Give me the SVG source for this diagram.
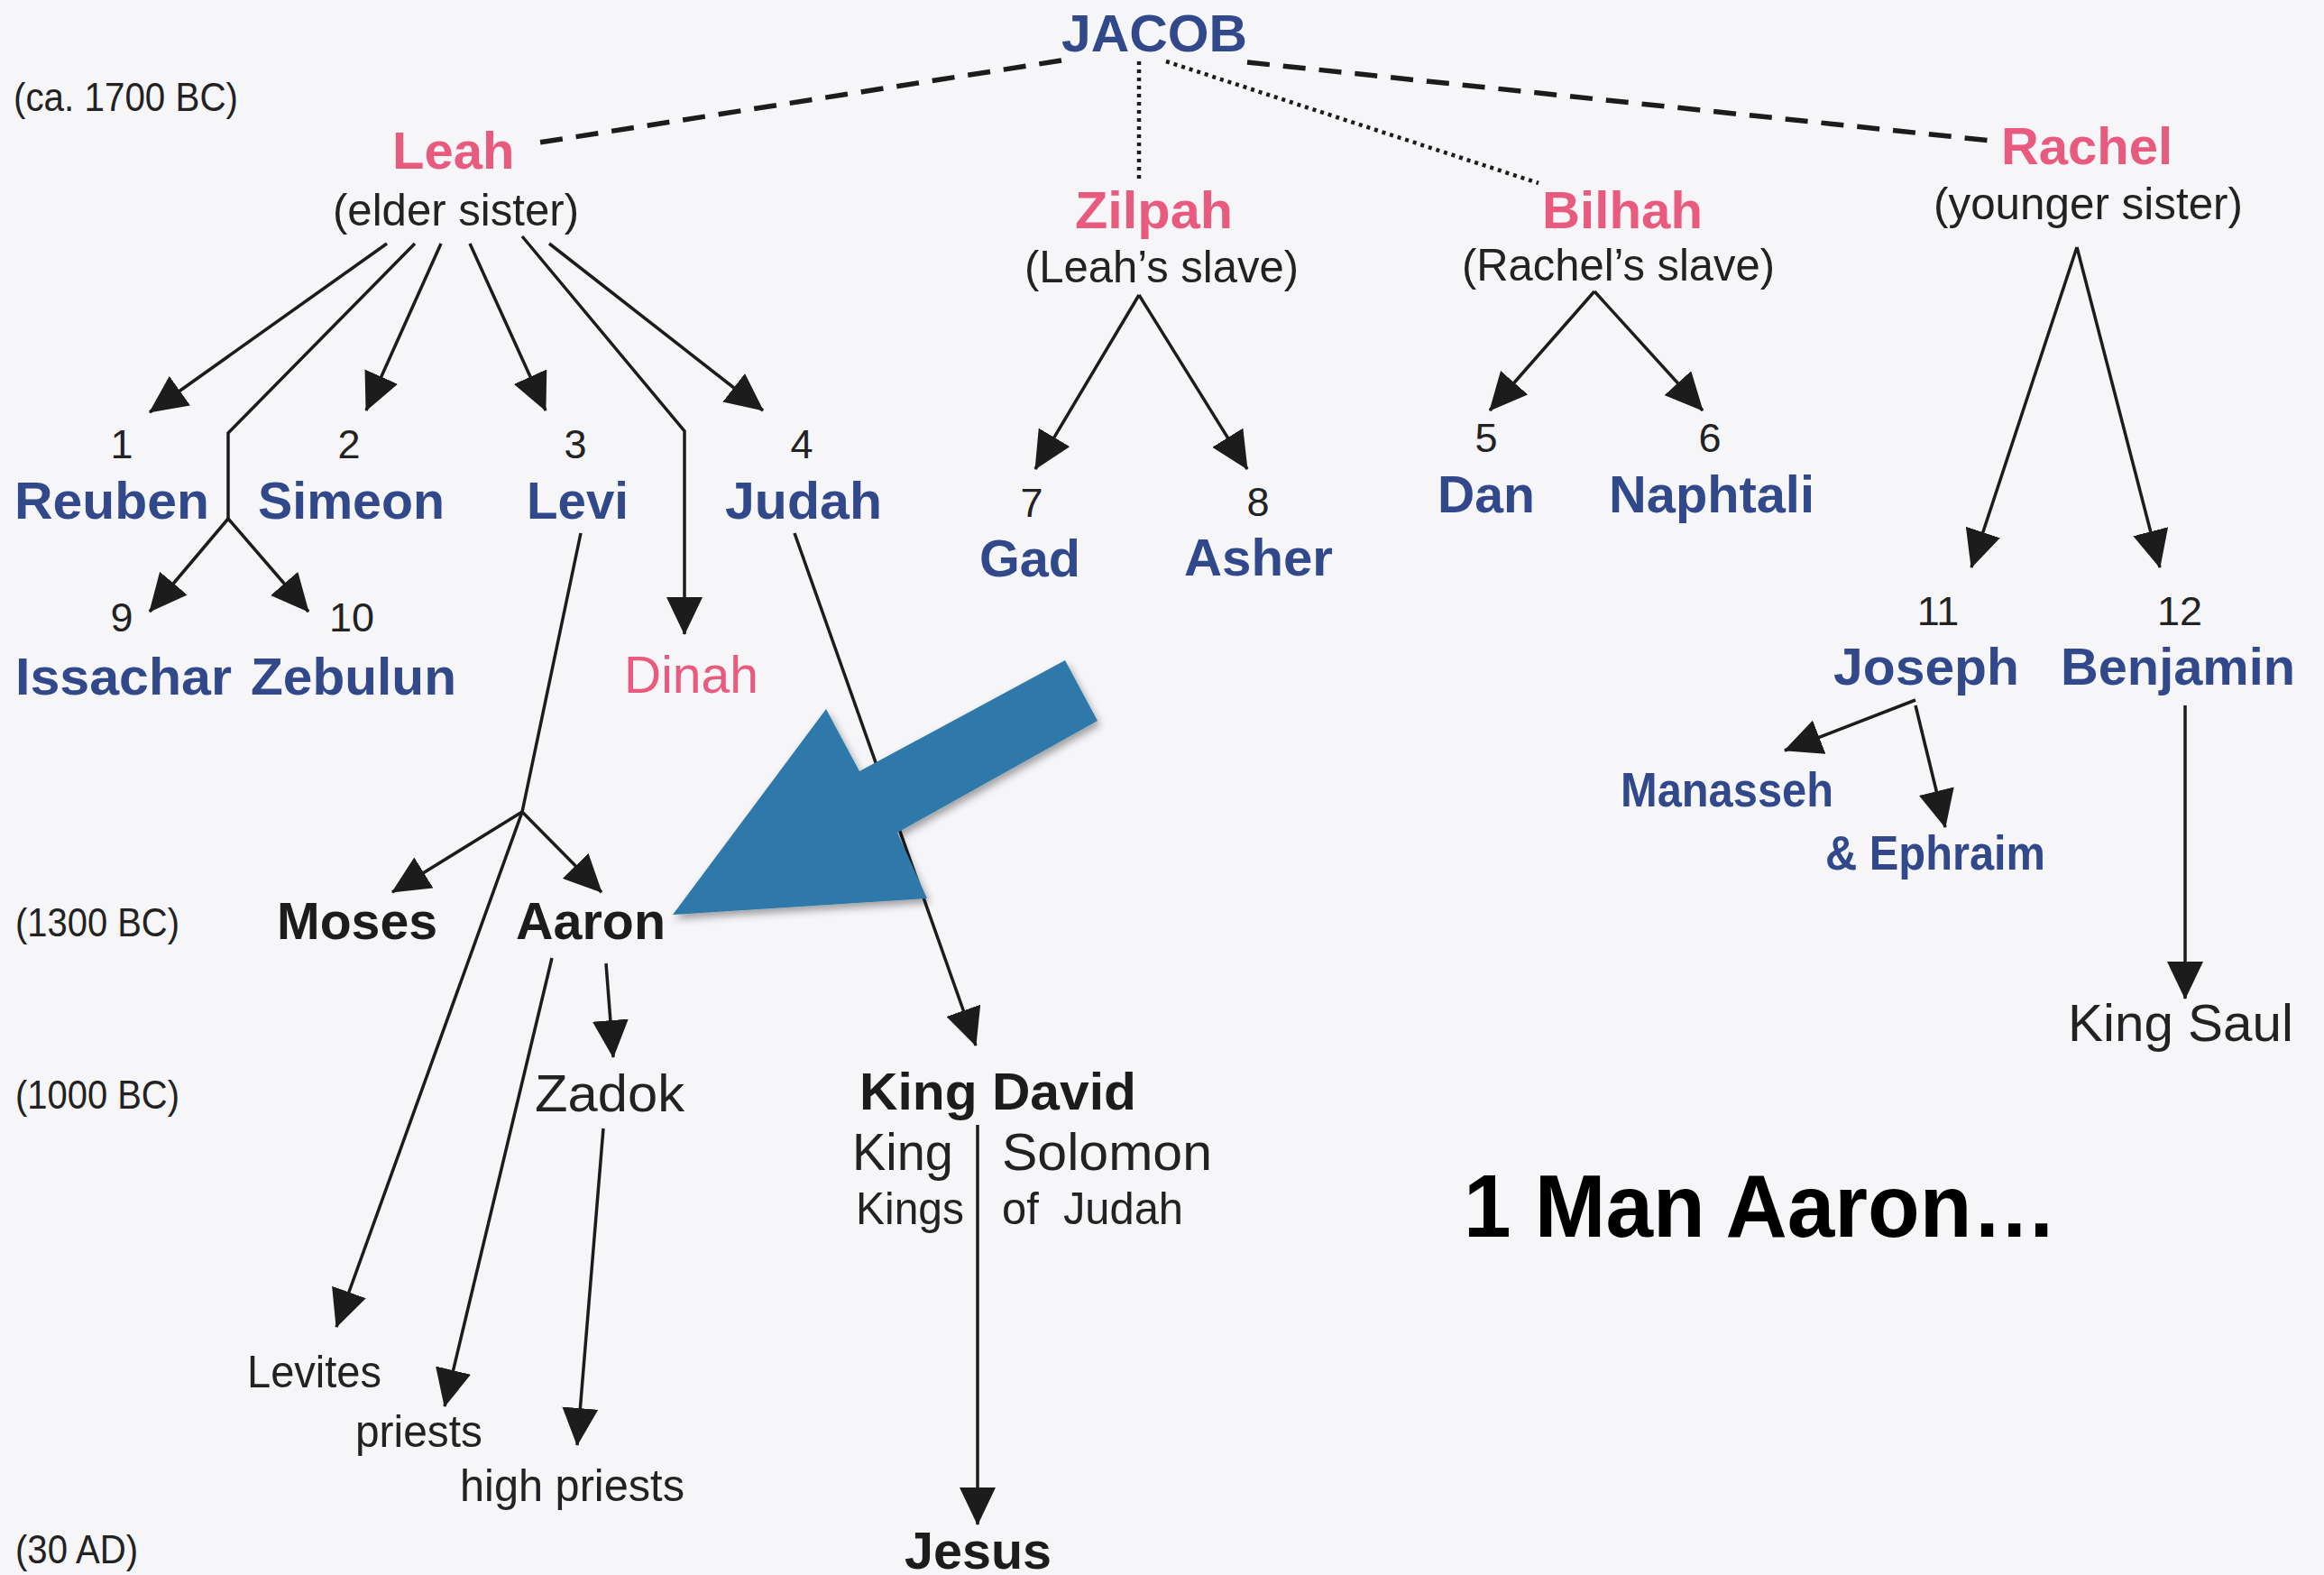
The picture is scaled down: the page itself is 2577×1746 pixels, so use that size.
<svg xmlns="http://www.w3.org/2000/svg" width="2577" height="1746" viewBox="0 0 2577 1746">
<style>
text{font-family:"Liberation Sans",Arial,Helvetica,sans-serif;}
.nb{font-weight:bold;font-size:58px;fill:#31498a;}
.pk{font-weight:bold;font-size:58px;fill:#e85a7e;}
.sub{font-size:50px;fill:#222;}
.num{font-size:45px;fill:#222;text-anchor:middle;}
.era{font-size:45px;fill:#222;}
.bk{font-weight:bold;font-size:58px;fill:#1c1c1c;}
.rg{font-size:58px;fill:#222;}
.sm{font-size:50px;fill:#222;}
.ln{stroke:#1c1c1c;stroke-width:3.5;fill:none;}
.arr{marker-end:url(#ah);}
.dash{stroke:#1c1c1c;stroke-width:5.5;fill:none;stroke-dasharray:25 15;}
.dot{stroke:#1c1c1c;stroke-width:4.5;fill:none;stroke-dasharray:4 5;}
</style>
<defs>
<marker id="ah" markerUnits="userSpaceOnUse" markerWidth="42" markerHeight="40" viewBox="0 0 42 40" refX="41" refY="20" orient="auto">
<path d="M0,0 L42,20 L0,40 z" fill="#1c1c1c"/>
</marker>
<filter id="sh" x="-20%" y="-20%" width="140%" height="140%">
<feDropShadow dx="3" dy="5" stdDeviation="4" flood-color="#000" flood-opacity="0.35"/>
</filter>
</defs>
<rect x="0" y="0" width="2577" height="1746" fill="#f6f6f9"/>

<g id="connectors">
<line class="dash" x1="1177" y1="67" x2="598" y2="158"/>
<line class="dash" x1="1383" y1="69" x2="2208" y2="156"/>
<line class="dot" x1="1263" y1="68" x2="1263" y2="203"/>
<line class="dot" x1="1293" y1="68" x2="1706" y2="203"/>
<line class="ln arr" x1="429" y1="270" x2="166" y2="457"/>
<polyline class="ln" points="460,270 253,480 253,575"/>
<line class="ln arr" x1="253" y1="575" x2="166" y2="678"/>
<line class="ln arr" x1="253" y1="575" x2="342" y2="678"/>
<line class="ln arr" x1="489" y1="270" x2="406" y2="455"/>
<line class="ln arr" x1="521" y1="270" x2="605" y2="455"/>
<polyline class="ln arr" points="579,262 759,478 759,703"/>
<line class="ln arr" x1="609" y1="270" x2="846" y2="455"/>
<line class="ln arr" x1="1263" y1="327" x2="1148" y2="520"/>
<line class="ln arr" x1="1263" y1="327" x2="1383" y2="520"/>
<line class="ln arr" x1="1768" y1="323" x2="1652" y2="455"/>
<line class="ln arr" x1="1768" y1="323" x2="1888" y2="455"/>
<line class="ln arr" x1="2303" y1="274" x2="2186" y2="629"/>
<line class="ln arr" x1="2303" y1="274" x2="2395" y2="629"/>
<line class="ln arr" x1="2124" y1="776" x2="1979" y2="832"/>
<line class="ln arr" x1="2124" y1="782" x2="2157" y2="917"/>
<line class="ln arr" x1="2423" y1="782" x2="2423" y2="1107"/>
<polyline class="ln arr" points="644,591 579,900 373,1471"/>
<line class="ln arr" x1="579" y1="900" x2="435" y2="989"/>
<line class="ln arr" x1="579" y1="900" x2="667" y2="989"/>
<line class="ln arr" x1="612" y1="1062" x2="493" y2="1559"/>
<line class="ln arr" x1="672" y1="1068" x2="680" y2="1172"/>
<line class="ln arr" x1="669" y1="1251" x2="640" y2="1602"/>
<line class="ln arr" x1="881" y1="591" x2="1082" y2="1159"/>
<line class="ln arr" x1="1084" y1="1247" x2="1084" y2="1690"/>
</g>

<g id="eras">
<text class="era" x="15" y="123" textLength="249" lengthAdjust="spacingAndGlyphs">(ca. 1700 BC)</text>
<text class="era" x="17" y="1038" textLength="182" lengthAdjust="spacingAndGlyphs">(1300 BC)</text>
<text class="era" x="17" y="1229" textLength="182" lengthAdjust="spacingAndGlyphs">(1000 BC)</text>
<text class="era" x="17" y="1733" textLength="136" lengthAdjust="spacingAndGlyphs">(30 AD)</text>
</g>

<g id="jacob"><text class="nb" x="1177" y="57" textLength="206" lengthAdjust="spacingAndGlyphs">JACOB</text></g>
<g id="leah"><text class="pk" x="435" y="187">Leah</text><text class="sub" x="369" y="250" textLength="273" lengthAdjust="spacingAndGlyphs">(elder sister)</text></g>
<g id="zilpah"><text class="pk" x="1192" y="253" textLength="175" lengthAdjust="spacingAndGlyphs">Zilpah</text><text class="sub" x="1136" y="313" textLength="304" lengthAdjust="spacingAndGlyphs">(Leah’s slave)</text></g>
<g id="bilhah"><text class="pk" x="1710" y="253" textLength="178" lengthAdjust="spacingAndGlyphs">Bilhah</text><text class="sub" x="1621" y="311" textLength="347" lengthAdjust="spacingAndGlyphs">(Rachel’s slave)</text></g>
<g id="rachel"><text class="pk" x="2219" y="182" textLength="190" lengthAdjust="spacingAndGlyphs">Rachel</text><text class="sub" x="2144" y="243" textLength="343" lengthAdjust="spacingAndGlyphs">(younger sister)</text></g>

<g id="reuben"><text class="num" x="135" y="508">1</text><text class="nb" x="16" y="575" textLength="216" lengthAdjust="spacingAndGlyphs">Reuben</text></g>
<g id="simeon"><text class="num" x="387" y="508">2</text><text class="nb" x="286" y="575" textLength="207" lengthAdjust="spacingAndGlyphs">Simeon</text></g>
<g id="levi"><text class="num" x="638" y="508">3</text><text class="nb" x="584" y="575" textLength="113" lengthAdjust="spacingAndGlyphs">Levi</text></g>
<g id="judah"><text class="num" x="889" y="508">4</text><text class="nb" x="804" y="575" textLength="174" lengthAdjust="spacingAndGlyphs">Judah</text></g>
<g id="gad"><text class="num" x="1144" y="573">7</text><text class="nb" x="1086" y="639" textLength="112" lengthAdjust="spacingAndGlyphs">Gad</text></g>
<g id="asher"><text class="num" x="1395" y="572">8</text><text class="nb" x="1313" y="638" textLength="165" lengthAdjust="spacingAndGlyphs">Asher</text></g>
<g id="dan"><text class="num" x="1648" y="501">5</text><text class="nb" x="1594" y="568" textLength="108" lengthAdjust="spacingAndGlyphs">Dan</text></g>
<g id="naphtali"><text class="num" x="1896" y="501">6</text><text class="nb" x="1784" y="568" textLength="228" lengthAdjust="spacingAndGlyphs">Naphtali</text></g>
<g id="issachar"><text class="num" x="135" y="700">9</text><text class="nb" x="17" y="770" textLength="240" lengthAdjust="spacingAndGlyphs">Issachar</text></g>
<g id="zebulun"><text class="num" x="390" y="700">10</text><text class="nb" x="278" y="770" textLength="228" lengthAdjust="spacingAndGlyphs">Zebulun</text></g>
<g id="dinah"><text x="692" y="768" style="font-size:57px;fill:#e85a7e" textLength="149" lengthAdjust="spacingAndGlyphs">Dinah</text></g>
<g id="joseph"><text class="num" x="2149" y="693">11</text><text class="nb" x="2033" y="759" textLength="206" lengthAdjust="spacingAndGlyphs">Joseph</text></g>
<g id="benjamin"><text class="num" x="2417" y="693">12</text><text class="nb" x="2285" y="759" textLength="260" lengthAdjust="spacingAndGlyphs">Benjamin</text></g>
<g id="manasseh"><text x="1797" y="894" style="font-weight:bold;font-size:53px;fill:#31498a" textLength="236" lengthAdjust="spacingAndGlyphs">Manasseh</text></g>
<g id="ephraim"><text x="2024" y="964" style="font-weight:bold;font-size:53px;fill:#31498a" textLength="244" lengthAdjust="spacingAndGlyphs">&amp; Ephraim</text></g>
<g id="king-saul"><text class="rg" x="2293" y="1154" textLength="250" lengthAdjust="spacingAndGlyphs">King Saul</text></g>

<g id="moses"><text class="bk" x="307" y="1041" textLength="178" lengthAdjust="spacingAndGlyphs">Moses</text></g>
<g id="aaron"><text class="bk" x="572" y="1041" textLength="166" lengthAdjust="spacingAndGlyphs">Aaron</text></g>
<g id="zadok"><text class="rg" x="593" y="1232" textLength="166" lengthAdjust="spacingAndGlyphs">Zadok</text></g>
<g id="levites"><text class="sm" x="274" y="1538" textLength="149" lengthAdjust="spacingAndGlyphs">Levites</text></g>
<g id="priests"><text class="sm" x="394" y="1604" textLength="141" lengthAdjust="spacingAndGlyphs">priests</text></g>
<g id="high-priests"><text class="sm" x="510" y="1664" textLength="249" lengthAdjust="spacingAndGlyphs">high priests</text></g>
<g id="king-david"><text class="bk" x="953" y="1230" textLength="307" lengthAdjust="spacingAndGlyphs">King David</text>
<text class="rg" x="945" y="1297" style="font-size:57px" textLength="112" lengthAdjust="spacingAndGlyphs">King</text>
<text class="rg" x="1111" y="1297" textLength="233" lengthAdjust="spacingAndGlyphs">Solomon</text>
<text class="sm" x="949" y="1357" textLength="120" lengthAdjust="spacingAndGlyphs">Kings</text>
<text class="sm" x="1111" y="1357" xml:space="preserve" textLength="201" lengthAdjust="spacingAndGlyphs">of  Judah</text></g>
<g id="jesus"><text class="bk" x="1003" y="1739" textLength="163" lengthAdjust="spacingAndGlyphs">Jesus</text></g>

<g id="pointer"><polygon points="746,1014 916,786 953,855 1181,732 1217,799 995,923 1028,996" fill="#2d79aa" filter="url(#sh)"/></g>

<g id="caption"><text x="1623" y="1371" style="font-weight:bold;font-size:98px;fill:#000" textLength="658" lengthAdjust="spacingAndGlyphs">1 Man Aaron…</text></g>
</svg>
